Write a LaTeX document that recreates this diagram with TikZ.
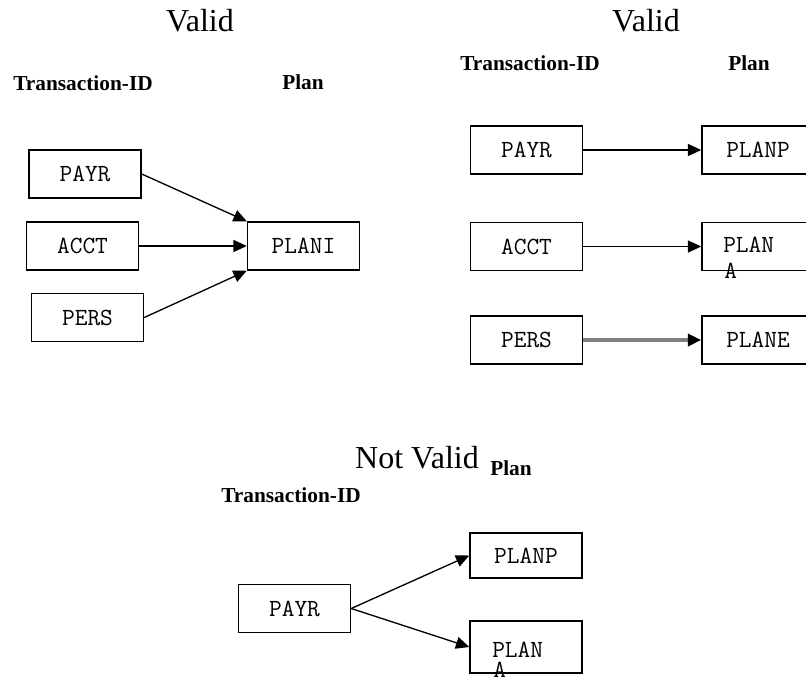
\documentclass[tikz,border=0pt]{standalone}
\usepackage{fontspec}
\setmainfont{Liberation Serif}
\usetikzlibrary{arrows.meta}

% text styles
\newcommand{\boxtextfont}{\ttfamily\fontsize{18.5}{22}\selectfont\addfontfeatures{LetterSpace=6,FakeBold=1.2}}
\newcommand{\titletextfont}{\rmfamily\fontsize{24}{28}\selectfont}
\newcommand{\headtextfont}{\rmfamily\bfseries\fontsize{16}{19}\selectfont}

\tikzset{
  box/.style={draw, line width=1.1pt, minimum width=84pt, minimum height=36pt,
              inner sep=0pt, font=\boxtextfont},
  boxlbl/.style={inner sep=0pt, font=\boxtextfont, text height=11.5pt, text depth=0pt},
  title/.style={inner sep=0pt, font=\titletextfont, anchor=base},
  head/.style={inner sep=0pt, font=\headtextfont, anchor=base west},
  link/.style={line width=1pt, -{Triangle[length=10pt,width=9pt]}},
  graylink/.style={line width=2.6pt, draw=black!50,
                   -{Triangle[length=10pt,width=9pt,color=black]}}
}

\begin{document}
\begin{tikzpicture}[x=0.75pt,y=-0.75pt]
\useasboundingbox (0,0) rectangle (806,683);
\clip (0,0) rectangle (806,683);

% ---- left group: many transactions, one plan
\node[title] (t1) at (200,31) {Valid};
\node[head] (h1) at (13,90) {Transaction-ID};
\node[head] (p1) at (282,89) {Plan};

\node[box] (l1) at (85,174) {PAYR};
\node[box] (l2) at (82.5,246) {ACCT};
\node[box] (l3) at (87.5,317.5) {PERS};
\node[box] (l4) at (303.5,246) {PLANI};

\draw[link] (l1.east) -- (l4.north west);
\draw[link] (l2.east) -- (l4.west);
\draw[link] (l3.east) -- (l4.south west);

% ---- right group: one plan per transaction
\node[title] (t2) at (646,31) {Valid};
\node[head] (h2) at (460,70) {Transaction-ID};
\node[head] (p2) at (728,70) {Plan};

\node[box] (r1) at (526.5,150) {PAYR};
\node[box] (r2) at (526.5,246.5) {ACCT};
\node[box] (r3) at (526.5,340) {PERS};
\node[box] (r4) at (758,150) {PLANP};
\node[box] (r5) at (758,246.5) {};
\node[boxlbl, anchor=base west] (r5a) at (723,252) {PLAN};
\node[boxlbl, anchor=base west] (r5b) at (724,278) {A};
\node[box] (r6) at (758,340) {PLANE};

\draw[link] (r1.east) -- (r4.west);
\draw[link] (r2.east) -- (r5.west);
\draw[graylink] (r3.east) -- (r6.west);

% ---- bottom group: one transaction, two plans
\node[title] (t3) at (417,468) {Not Valid};
\node[head] (p3) at (490,475) {Plan};
\node[head] (h3) at (221,502) {Transaction-ID};

\node[box] (b1) at (294.5,608.5) {PAYR};
\node[box, minimum height=33.75pt] (b2) at (526,555.5) {PLANP};
\node[box, minimum height=39pt] (b3) at (526,647) {};
\node[boxlbl, anchor=base west] (b3a) at (492,657) {PLAN};
\node[boxlbl, anchor=base west] (b3b) at (493,677) {A};

\draw[link] (b1.east) -- (b2.west);
\draw[link] (b1.east) -- (b3.west);
\end{tikzpicture}
\end{document}
